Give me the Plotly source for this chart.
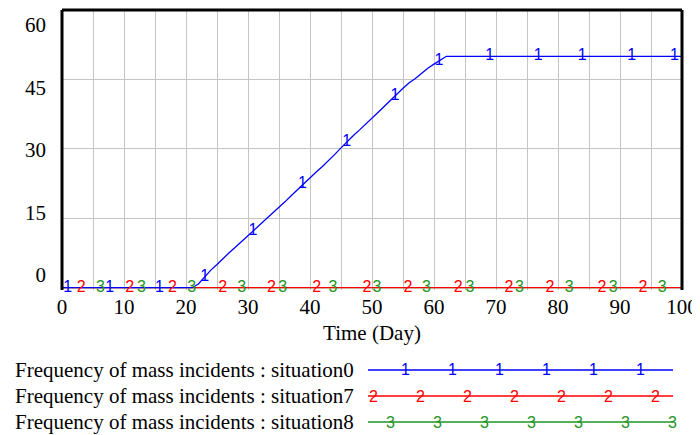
import numpy as np
import plotly.graph_objects as go

# ---------------- data ----------------
days = list(range(0, 101))
situation0 = ([0] * 22 +
              [0.8, 2.4, 3.8, 5.0, 6.4, 7.6, 8.8, 10.0, 11.2, 12.4,
               13.6, 14.9, 16.1, 17.3, 18.6, 19.9, 21.2, 22.6, 23.9, 25.0,
               26.2, 27.4, 28.8, 30.2, 31.6, 32.9, 34.1, 35.3, 36.6, 37.9,
               39.2, 40.4, 41.8, 43.1, 44.3, 45.2, 46.4, 47.4, 48.3, 49.2] +
              [50] * 39)
situation7 = [0] * 101
situation8 = [0] * 101

series_names = ["Frequency of mass incidents : situation0",
                "Frequency of mass incidents : situation7",
                "Frequency of mass incidents : situation8"]
series_digits = ["1", "2", "3"]

# days at which the series number labels sit on the lines
marks0 = [0.9, 7.7, 15.7, 23.0, 30.8, 38.8, 45.9, 53.7, 60.8, 69.0, 76.8, 83.9, 91.9, 98.8]
marks7 = [3.1, 10.9, 17.8, 25.9, 33.8, 41.1, 49.2, 55.8, 63.9, 72.1, 78.7, 87.1, 93.7]
marks8 = [6.2, 12.8, 20.9, 29.0, 35.6, 43.7, 50.8, 58.8, 65.8, 73.8, 81.8, 88.9, 96.8]

x_ticks = list(range(0, 101, 10))
y_ticks = [0, 15, 30, 45, 60]
y_ticktext = ["0", "15", "30", "45", "60"]
x_title = "Time (Day)"

# ---------------- style ----------------
colors = ["#0000ff", "#ff0000", "#1f951f"]
SERIF = "Liberation Serif"
SANS = "Liberation Sans"
GRID = "#c4c4c4"
LW = 1.3

OFF = 8                      # page body margin of the viewer
FW, FH = 700 - OFF, 435 - OFF
# plot area in window pixels: x 62..682, y 10..290
L, R, T, B = 62 - OFF, 700 - 682, 10 - OFF, 435 - 290
W = FW - L - R
H = FH - T - B
BOT = 290
YMIN, YMAX = -0.5, 60
PPU = H / (YMAX - YMIN)


def px_x(px):
    return (px - 62) / W


def px_y(py):
    return (BOT - py) / H


# y tick labels are drawn slightly compressed (as in the original tool)
LAB_BOT, LAB_TOP = 275, 25
y_label_pos = [YMIN + (BOT - (LAB_BOT - (LAB_BOT - LAB_TOP) * v / 60)) / PPU for v in y_ticks]

fig = go.Figure()

all_vals = [situation0, situation7, situation8]
all_marks = [marks0, marks7, marks8]

for i in [2, 1, 0]:
    fig.add_trace(go.Scatter(x=days, y=all_vals[i], mode="lines",
                             line=dict(color=colors[i], width=LW),
                             hoverinfo="skip", showlegend=False))
for i in [2, 1, 0]:
    mv = np.interp(all_marks[i], days, all_vals[i])
    fig.add_trace(go.Scatter(x=all_marks[i], y=mv, mode="text",
                             text=[series_digits[i]] * len(all_marks[i]),
                             textposition="middle center",
                             textfont=dict(family=SANS, size=16, color=colors[i]),
                             cliponaxis=False, hoverinfo="skip", showlegend=False))

shapes = [
    dict(type="line", xref="paper", yref="paper", x0=0, x1=0, y0=0, y1=1,
         line=dict(color="black", width=3)),
    dict(type="line", xref="paper", yref="paper", x0=0, x1=1, y0=1, y1=1,
         line=dict(color="black", width=3)),
    dict(type="line", xref="paper", yref="paper", x0=1, x1=1, y0=0, y1=1,
         line=dict(color="black", width=3)),
]
annotations = []

row_y = [370, 396, 422]
for i in range(3):
    yy = px_y(row_y[i])
    annotations.append(dict(xref="paper", yref="paper", x=px_x(13), y=yy,
                            xanchor="left", yanchor="middle", showarrow=False,
                            text=series_names[i],
                            font=dict(family=SERIF, size=21, color="black")))
    shapes.append(dict(type="line", xref="paper", yref="paper",
                       x0=px_x(368), x1=px_x(673), y0=yy, y1=yy,
                       line=dict(color=colors[i], width=LW)))
legend_starts = [405, 373, 390]
legend_counts = [6, 7, 7]
for i in range(3):
    for k in range(legend_counts[i]):
        annotations.append(dict(xref="paper", yref="paper",
                                x=px_x(legend_starts[i] + 47 * k), y=px_y(row_y[i]),
                                xanchor="center", yanchor="middle", showarrow=False,
                                text=series_digits[i],
                                font=dict(family=SANS, size=16, color=colors[i])))

fig.update_layout(
    width=FW, height=FH,
    margin=dict(l=L, r=R, t=T, b=B, pad=0, autoexpand=False),
    paper_bgcolor="white", plot_bgcolor="white",
    showlegend=False,
    shapes=shapes, annotations=annotations,
    xaxis=dict(range=[0, 100], tickvals=x_ticks, ticks="", showline=False,
               zeroline=False, showgrid=True, gridcolor=GRID, gridwidth=1,
               minor=dict(dtick=5, showgrid=True, gridcolor=GRID, gridwidth=1),
               tickfont=dict(family=SERIF, size=21, color="black"),
               ticklabelstandoff=2, automargin=False,
               title=dict(text=x_title, standoff=7,
                          font=dict(family=SERIF, size=21, color="black"))),
    yaxis=dict(range=[YMIN, YMAX], tickvals=y_label_pos, ticktext=y_ticktext,
               ticks="", showline=False, zeroline=False, showgrid=False,
               minor=dict(tickvals=y_ticks, showgrid=True, gridcolor=GRID,
                          gridwidth=1, ticks=""),
               ticklabelstandoff=15, automargin=False,
               tickfont=dict(family=SERIF, size=21, color="black")),
)

fig.write_html("out.html")
